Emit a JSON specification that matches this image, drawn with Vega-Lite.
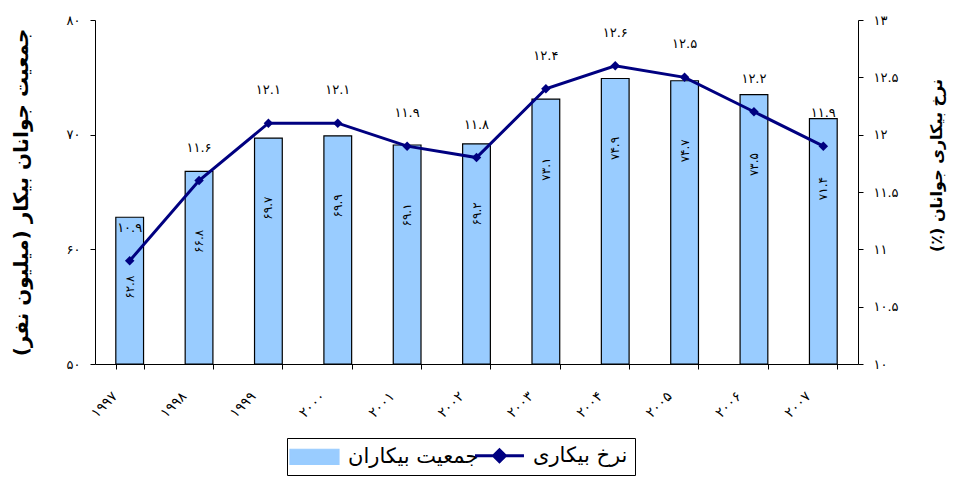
{
  "$schema": "https://vega.github.io/schema/vega-lite/v6.json",
  "width": 763,
  "height": 344,
  "autosize": "none",
  "padding": {"left": 95, "top": 20, "right": 97, "bottom": 117},
  "background": "white",
  "config": {
    "locale": {"number": {"decimal": ".", "thousands": ",", "grouping": [3], "currency": ["", ""], "numerals": ["۰", "۱", "۲", "۳", "۴", "۵", "۶", "۷", "۸", "۹"]}},
    "font": "DejaVu Sans",
    "view": {"stroke": null},
    "axis": {"grid": false, "domainColor": "#000", "tickColor": "#000", "labelColor": "#000", "titleColor": "#000", "labelFont": "DejaVu Sans", "titleFont": "DejaVu Sans", "labelFontSize": 13, "tickSize": 5}
  },
  "data": {"values": [
    {"year": "۱۹۹۷", "pop": 62.8, "rate": 10.9},
    {"year": "۱۹۹۸", "pop": 66.8, "rate": 11.6},
    {"year": "۱۹۹۹", "pop": 69.7, "rate": 12.1},
    {"year": "۲۰۰۰", "pop": 69.9, "rate": 12.1},
    {"year": "۲۰۰۱", "pop": 69.1, "rate": 11.9},
    {"year": "۲۰۰۲", "pop": 69.2, "rate": 11.8},
    {"year": "۲۰۰۳", "pop": 73.1, "rate": 12.4},
    {"year": "۲۰۰۴", "pop": 74.9, "rate": 12.6},
    {"year": "۲۰۰۵", "pop": 74.7, "rate": 12.5},
    {"year": "۲۰۰۶", "pop": 73.5, "rate": 12.2},
    {"year": "۲۰۰۷", "pop": 71.4, "rate": 11.9}
  ]},
  "encoding": {
    "x": {"field": "year", "type": "nominal", "sort": null,
      "scale": {"paddingInner": 0.6, "paddingOuter": 0.3},
      "axis": {"title": null, "labelAngle": -45, "labelAlign": "right", "labelBaseline": "top", "tickBand": "extent", "labelPadding": 20, "labelOffset": -20, "labelFontSize": 14}}
  },
  "layer": [
    {
      "encoding": {
        "y": {"field": "pop", "type": "quantitative", "scale": {"domain": [50, 80], "nice": false, "zero": false},
          "axis": {"values": [50, 60, 70, 80], "format": "d", "title": "‏جمعیت جوانان بیکار (میلیون نفر)‏", "titleFontSize": 20, "titleFontWeight": "bold", "titlePadding": 35, "labelPadding": 10}}
      },
      "layer": [
        {
          "mark": {"type": "bar", "stroke": "#000", "strokeWidth": 1.2},
          "encoding": {
            "y2": {"datum": 50},
            "color": {"datum": "جمعیت بیکاران", "type": "nominal",
              "scale": {"domain": ["جمعیت بیکاران", "نرخ بیکاری"], "range": ["#99ccff", "#000080"]},
              "legend": {"orient": "none", "legendX": 192, "legendY": 418, "direction": "horizontal", "title": null,
                "strokeColor": "#000", "fillColor": "white", "padding": 7, "labelFontSize": 21, "labelFont": "DejaVu Sans",
                "symbolSize": 1225, "symbolType": "M-0.83,-0.43H1.97V0.43H-0.83Z", "columnPadding": -30, "labelOffset": 33,
                "encode": {"symbols": {"update": {
                  "shape": {"signal": "datum.value === 'نرخ بیکاری' ? 'M-0.83,0H1.97M0.23,0L0.57,-0.34L0.91,0L0.57,0.34Z' : 'M-0.83,-0.43H1.97V0.43H-0.83Z'"},
                  "fill": {"signal": "datum.value === 'نرخ بیکاری' ? '#000080' : '#99ccff'"},
                  "stroke": {"signal": "datum.value === 'نرخ بیکاری' ? '#000080' : '#000000'"},
                  "strokeWidth": {"signal": "datum.value === 'نرخ بیکاری' ? 3 : 1.2"},
                  "opacity": {"value": 1}
                }}}}
            }
          }
        },
        {
          "mark": {"type": "text", "angle": 270, "align": "center", "baseline": "middle", "dx": -70, "fontSize": 12, "color": "#000"},
          "encoding": {"text": {"field": "pop", "type": "quantitative"}}
        }
      ]
    },
    {
      "encoding": {
        "y": {"field": "rate", "type": "quantitative", "scale": {"domain": [10, 13], "nice": false, "zero": false},
          "axis": {"orient": "right", "values": [10, 10.5, 11, 11.5, 12, 12.5, 13], "format": "~g", "title": "‏نرخ بیکاری جوانان (٪)‏", "titleFontSize": 16, "titleFontWeight": "bold", "titleAngle": 270, "titleBaseline": "top", "titlePadding": 30, "titleY": 145, "labelPadding": 10}}
      },
      "layer": [
        {
          "mark": {"type": "line", "strokeWidth": 3, "point": {"filled": true, "shape": "diamond", "size": 90}},
          "encoding": {"color": {"datum": "نرخ بیکاری", "type": "nominal",
              "legend": {"orient": "none", "legendX": 192, "legendY": 418, "direction": "horizontal", "title": null,
                "strokeColor": "#000", "fillColor": "white", "padding": 7, "labelFontSize": 21, "labelFont": "DejaVu Sans",
                "symbolSize": 1225, "symbolType": "M-0.83,-0.43H1.97V0.43H-0.83Z", "columnPadding": -30, "labelOffset": 33,
                "encode": {"symbols": {"update": {
                  "shape": {"signal": "datum.value === 'نرخ بیکاری' ? 'M-0.83,0H1.97M0.23,0L0.57,-0.34L0.91,0L0.57,0.34Z' : 'M-0.83,-0.43H1.97V0.43H-0.83Z'"},
                  "fill": {"signal": "datum.value === 'نرخ بیکاری' ? '#000080' : '#99ccff'"},
                  "stroke": {"signal": "datum.value === 'نرخ بیکاری' ? '#000080' : '#000000'"},
                  "strokeWidth": {"signal": "datum.value === 'نرخ بیکاری' ? 3 : 1.2"},
                  "opacity": {"value": 1}
                }}}}}}
        },
        {
          "mark": {"type": "text", "dy": -33, "fontSize": 13, "color": "#000"},
          "encoding": {"text": {"field": "rate", "type": "quantitative"}}
        }
      ]
    }
  ],
  "resolve": {"scale": {"y": "independent"}}
}
